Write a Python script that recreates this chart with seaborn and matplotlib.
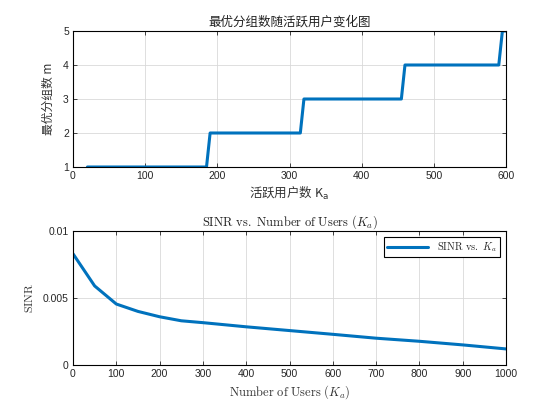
import numpy as np
import pandas as pd
import seaborn as sns
import matplotlib.pyplot as plt

# top plot: optimal group count vs active users (step points)
users_top = [20, 185, 190, 315, 320, 455, 460, 590, 595, 600]
groups_m = [1, 1, 2, 2, 3, 3, 4, 4, 5, 5]

# bottom plot: SINR vs number of users
users_bot = [0, 50, 100, 150, 200, 250, 300, 400, 500, 600, 700, 800, 900, 1000]
sinr = [0.0083, 0.0059, 0.00455, 0.0040, 0.0036, 0.0033, 0.00316, 0.00285,
        0.00257, 0.00229, 0.0020, 0.00177, 0.0015, 0.0012]

sns.set_style('ticks')
plt.rcParams['font.family'] = ['Liberation Sans', 'Noto Sans CJK SC', 'DejaVu Sans']
plt.rcParams['mathtext.fontset'] = 'cm'

blue = '#0072BD'
fig = plt.figure(figsize=(5.6, 4.2), dpi=100)
ax1 = fig.add_axes([73/560, 1 - 167/420, 433/560, 136/420])
ax2 = fig.add_axes([73/560, 1 - 365/420, 433/560, 134/420])

df1 = pd.DataFrame({'K': users_top, 'm': groups_m})
sns.lineplot(data=df1, x='K', y='m', ax=ax1, color=blue, linewidth=2.2)
ax1.set_xlim(0, 600)
ax1.set_ylim(1, 5)
ax1.set_xticks([0, 100, 200, 300, 400, 500, 600])
ax1.set_yticks([1, 2, 3, 4, 5])
ax1.set_title('最优分组数随活跃用户变化图', fontsize=9,
              family=['Noto Sans CJK SC'], color='#222222', pad=4)
ax1.set_xlabel('活跃用户数 K$_\\mathrm{a}$', fontsize=9,
               family=['Noto Sans CJK SC', 'DejaVu Sans'],
               math_fontfamily='dejavusans', color='#333333', labelpad=3)
ax1.set_ylabel('最优分组数 m', fontsize=8.5,
               family=['Noto Sans CJK SC', 'DejaVu Sans'], color='#333333', labelpad=6)

df2 = pd.DataFrame({'K': users_bot, 'SINR': sinr})
sns.lineplot(data=df2, x='K', y='SINR', ax=ax2, color=blue, linewidth=2.2,
             label=r'$\mathrm{SINR\ vs.\ }K_a$')
ax2.set_xlim(0, 1000)
ax2.set_ylim(0, 0.01)
ax2.set_xticks(np.arange(0, 1001, 100))
ax2.set_yticks([0, 0.005, 0.01])
ax2.set_yticklabels(['0', '0.005', '0.01'])
ax2.set_title(r'$\mathrm{SINR\ vs.\ Number\ of\ Users\ }(K_a)$', fontsize=9,
              color='#222222', pad=4)
ax2.set_xlabel(r'$\mathrm{Number\ of\ Users\ }(K_a)$', fontsize=9,
               color='#333333', labelpad=3)
ax2.set_ylabel(r'$\mathrm{SINR}$', fontsize=8.5, color='#333333', labelpad=5)
leg = ax2.legend(loc='upper right', fontsize=7.5, frameon=True, fancybox=False,
                 edgecolor='black', framealpha=1, handlelength=4,
                 borderaxespad=0.6, borderpad=0.3)
leg.get_frame().set_linewidth(0.8)

for ax in (ax1, ax2):
    ax.grid(True, color='#d9d9d9', linewidth=0.6)
    ax.tick_params(direction='in', length=3, width=0.6, labelsize=7.5,
                   top=True, right=True, colors='#262626', pad=3)
    for s in ax.spines.values():
        s.set_visible(True)
        s.set_linewidth(0.8)
        s.set_color('black')

fig.savefig('out.png', dpi=100)
